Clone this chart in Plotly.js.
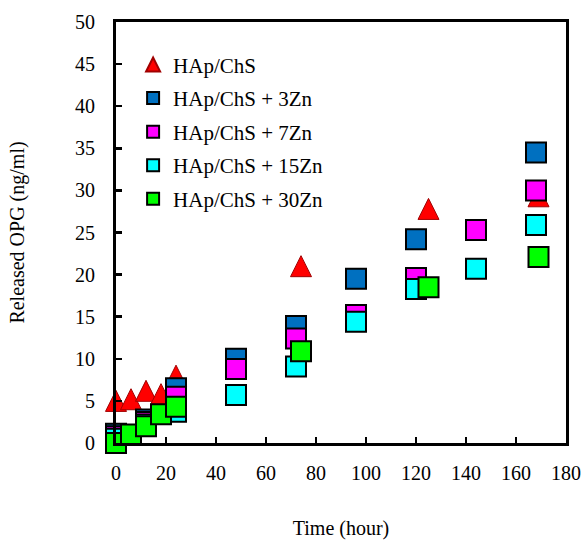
<!DOCTYPE html>
<html>
<head>
<meta charset="utf-8">
<script src="https://cdn.plot.ly/plotly-3.0.1.min.js"></script>
<style>html,body{margin:0;padding:0;background:#fff;}#chart{width:582px;height:540px;}</style>
</head>
<body>
<div id="chart"></div>
<script>
// Data
const seriesNames = ["HAp/ChS", "HAp/ChS + 3Zn", "HAp/ChS + 7Zn", "HAp/ChS + 15Zn", "HAp/ChS + 30Zn"];

const timeHApChS = [0, 6, 12, 18, 24, 74, 125, 169];
const oppHApChS  = [5.0, 5.2, 6.2, 5.8, 8.0, 21.0, 27.8, 29.3];

const time3Zn = [0, 12, 24, 48, 72, 96, 120, 168];
const opg3Zn  = [1.1, 2.8, 6.5, 10.0, 13.9, 19.5, 24.2, 34.5];

const time7Zn = [0, 12, 24, 48, 72, 96, 120, 144, 168];
const opg7Zn  = [0.8, 2.5, 5.5, 8.8, 12.4, 15.2, 19.6, 25.3, 30.0];

const time15Zn = [0, 12, 24, 48, 72, 96, 120, 144, 168];
const opg15Zn  = [0.5, 2.2, 3.7, 5.7, 9.1, 14.4, 18.3, 20.7, 25.9];

const time30Zn = [0, 6, 12, 18, 24, 74, 125, 169];
const opg30Zn  = [0.0, 1.0, 2.0, 3.4, 4.3, 10.9, 18.5, 22.1];

const xTickVals = [0, 20, 40, 60, 80, 100, 120, 140, 160, 180];
const yTickVals = [0, 5, 10, 15, 20, 25, 30, 35, 40, 45, 50];

const FONT = "Liberation Serif";

function sq(name, x, y, color, grp) {
  return {
    type: 'scatter', mode: 'markers', name: name, x: x, y: y,
    legendgroup: grp, cliponaxis: false,
    marker: {symbol: 'square', size: 20, color: color, line: {color: '#000', width: 2}}
  };
}

const traces = [
  {
    type: 'scatter', mode: 'markers', name: seriesNames[0], x: timeHApChS, y: oppHApChS,
    legendgroup: 'g0', cliponaxis: false,
    marker: {symbol: 'triangle-up', size: 20, color: '#FF0000', line: {color: '#A00000', width: 1}}
  },
  sq(seriesNames[1], time3Zn, opg3Zn, '#0070C0', 'g1'),
  sq(seriesNames[2], time7Zn, opg7Zn, '#FF00FF', 'g2'),
  sq(seriesNames[3], time15Zn, opg15Zn, '#00FFFF', 'g3'),
  sq(seriesNames[4], time30Zn, opg30Zn, '#00FF00', 'g4')
];

const axisCommon = {
  showgrid: false, zeroline: false,
  showline: true, linewidth: 3, linecolor: '#000', mirror: true,
  ticks: 'inside', ticklen: 6, tickwidth: 2.5, tickcolor: '#000',
  tickfont: {family: FONT, size: 20, color: '#000'}
};

const layout = {
  width: 582, height: 540,
  margin: {l: 116, r: 16, t: 22, b: 97},
  paper_bgcolor: '#fff', plot_bgcolor: '#fff',
  font: {family: FONT, color: '#000'},
  showlegend: true,
  hovermode: false,
  legend: {
    x: 0.038, y: 0.947, xanchor: 'left', yanchor: 'top',
    bgcolor: 'rgba(0,0,0,0)', borderwidth: 0,
    font: {family: FONT, size: 21, color: '#000'},
    itemsizing: 'constant', tracegroupgap: 3.3, traceorder: 'grouped'
  },
  xaxis: Object.assign({}, axisCommon, {
    range: [0, 180], tickmode: 'array', tickvals: xTickVals,
    ticklabelstandoff: 10,
    title: {text: 'Time (hour)', font: {family: FONT, size: 20, color: '#000'}, standoff: 40}
  }),
  yaxis: Object.assign({}, axisCommon, {
    range: [0, 50], tickmode: 'array', tickvals: yTickVals,
    ticklabelstandoff: 14,
    title: {text: 'Released OPG (ng/ml)', font: {family: FONT, size: 20, color: '#000'}, standoff: 46}
  })
};

Plotly.newPlot('chart', traces, layout, {displayModeBar: false, staticPlot: true}).then(function (gd) {
  const tri = h => 'M' + (-h) + ',' + h + 'L0,' + (-h) + 'L' + h + ',' + h + 'Z';
  const tr = gd.querySelectorAll('.scatterlayer .trace');
  if (tr.length) tr[0].querySelectorAll('path.point').forEach(p => p.setAttribute('d', tri(10.5)));
  const lt = gd.querySelectorAll('.legend .traces');
  if (lt.length) lt[0].querySelectorAll('path.scatterpts').forEach(p => p.setAttribute('d', tri(7)));
});
</script>
</body>
</html>
